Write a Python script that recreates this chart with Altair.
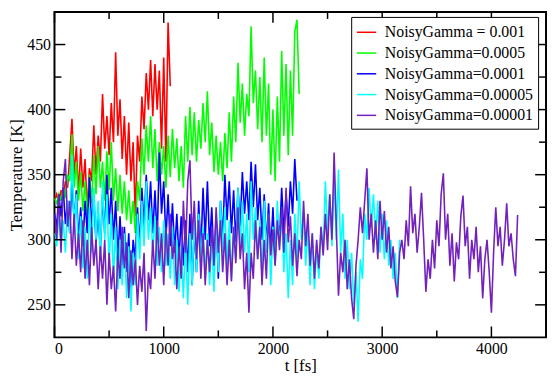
import altair as alt
import pandas as pd

STEP = 20  # fs between samples

labels = ["NoisyGamma = 0.001", "NoisyGamma=0.0005", "NoisyGamma=0.0001",
          "NoisyGamma=0.00005", "NoisyGamma=0.00001"]
colors = ["#ff0000", "#00ff00", "#0000ff", "#00ffff", "#7221bc"]

red = [330, 335, 328, 338, 332, 345, 340, 365, 393, 350, 372, 335, 370, 340, 362, 322,
       355, 345, 388, 350, 380, 360, 412, 370, 395, 365, 405, 375, 444, 380, 408, 362,
       395, 350, 390, 345, 375, 318, 380, 360, 410, 385, 428, 400, 438, 395, 435, 400,
       430, 370, 440, 360, 467, 418]

green = [332, 328, 335, 330, 340, 332, 350, 345, 381, 340, 360, 330, 352, 322, 345, 318,
         350, 328, 365, 335, 372, 340, 360, 330, 368, 338, 375, 330, 355, 322, 350, 320,
         345, 315, 338, 312, 330, 305, 345, 330, 378, 350, 388, 360, 395, 355, 385, 345,
         375, 350, 372, 340, 380, 348, 385, 355, 378, 345, 372, 340, 395, 360, 402, 365,
         398, 360, 392, 370, 405, 375, 414, 365, 390, 352, 380, 350, 375, 345, 382, 355,
         398, 360, 410, 375, 436, 390, 420, 380, 412, 395, 464, 405, 430, 385, 425, 375,
         440, 380, 420, 350, 400, 345, 410, 360, 445, 380, 435, 365, 430, 380, 460, 469,
         412]

blue = [320, 310, 335, 318, 340, 312, 330, 305, 345, 315, 338, 300, 325, 295, 330, 305,
        348, 310, 335, 298, 322, 290, 335, 305, 350, 312, 340, 300, 330, 285, 318, 280,
        310, 275, 305, 262, 300, 285, 325, 295, 340, 310, 350, 315, 345, 305, 338, 300,
        367, 320, 345, 300, 335, 295, 328, 290, 320, 285, 318, 280, 315, 275, 320, 265,
        310, 275, 330, 290, 340, 300, 345, 295, 325, 280, 318, 270, 330, 300, 350, 315,
        345, 305, 338, 298, 340, 310, 352, 320, 345, 315, 360, 325, 358, 315, 340, 300,
        335, 295, 328, 290, 325, 285, 320, 300, 340, 305, 335, 310, 345, 320, 362, 330]

cyan = [305, 295, 320, 298, 315, 290, 330, 305, 365, 310, 335, 285, 318, 278, 310, 270,
        325, 290, 340, 300, 330, 285, 345, 300, 335, 280, 320, 270, 310, 262, 300, 265,
        305, 255, 295, 245, 290, 265, 320, 285, 330, 295, 345, 300, 325, 290, 318, 280,
        310, 275, 315, 280, 305, 270, 310, 265, 300, 260, 295, 255, 300, 250, 305, 265,
        315, 275, 320, 285, 310, 270, 305, 265, 300, 260, 315, 275, 330, 290, 325, 280,
        315, 270, 305, 285, 340, 295, 330, 290, 320, 275, 345, 300, 325, 285, 315, 270,
        330, 290, 320, 265, 310, 280, 330, 295, 318, 275, 305, 255, 300, 265, 320, 285,
        345, 300, 320, 280, 310, 265, 305, 262, 295, 270, 310, 290, 345, 305, 335, 295,
        350, 300, 354, 290, 320, 270, 300, 262, 290, 250, 275, 237, 285, 270, 320, 300,
        340, 310, 335, 300, 330, 290, 320, 285, 315, 280, 300, 270, 290, 255, 300]

purple = [320, 300, 335, 290, 345, 362, 310, 330, 285, 320, 280, 305, 275, 315, 270, 300,
          265, 310, 280, 300, 262, 295, 270, 300, 250, 290, 262, 280, 245, 290, 270, 310,
          278, 298, 255, 292, 265, 285, 250, 280, 260, 290, 230, 275, 262, 300, 270, 315,
          280, 305, 265, 310, 280, 320, 285, 300, 262, 295, 270, 330, 290, 345, 361, 300,
          330, 285, 315, 270, 305, 265, 300, 275, 310, 280, 325, 290, 315, 275, 305, 265,
          300, 268, 310, 282, 325, 285, 305, 262, 290, 244, 290, 270, 315, 285, 310, 265,
          300, 270, 320, 288, 308, 280, 315, 292, 325, 290, 340, 298, 318, 280, 305, 272,
          300, 285, 330, 295, 320, 280, 305, 270, 300, 278, 310, 288, 320, 292, 335, 300,
          367, 310, 257, 290, 275, 300, 262, 285, 255, 239, 280, 300, 325, 305, 330, 355,
          300, 320, 290, 315, 285, 330, 300, 322, 290, 310, 278, 295, 268, 256, 290, 300,
          285, 315, 295, 341, 305, 320, 290, 310, 336, 300, 260, 285, 270, 300, 278, 315,
          295, 335, 351, 300, 320, 280, 305, 268, 298, 285, 318, 334, 295, 310, 270, 300,
          285, 310, 275, 295, 255, 285, 300, 275, 244, 290, 325, 295, 310, 280, 300, 328,
          295, 305, 285, 272, 319]

series = [red, green, blue, cyan, purple]

x_major = [0, 1000, 2000, 3000, 4000]
x_minor = [500, 1500, 2500, 3500]
y_major = [250, 300, 350, 400, 450]
y_minor = [275, 325, 375, 425]

W, H = 546, 367
FONT = "Liberation Serif"

xscale = alt.Scale(domain=[0, 4500], nice=False, zero=False)
yscale = alt.Scale(domain=[225, 475], nice=False, zero=False)
cscale = alt.Scale(domain=labels, range=colors)

xaxis = alt.Axis(values=x_major, ticks=False, domain=False, grid=False,
                 title="t [fs]", format="d", labelPadding=3, titlePadding=1)
yaxis = alt.Axis(values=y_major, ticks=False, domain=False, grid=False,
                 title="Temperature [K]", format="d", labelPadding=4, titlePadding=1)
legend = alt.Legend(title=None, orient="none", legendX=300, legendY=5,
                    symbolType="stroke", symbolSize=380, symbolStrokeWidth=1.5,
                    labelFont=FONT, labelFontSize=16, labelColor="black",
                    strokeColor="black", fillColor="white",
                    padding=5, rowPadding=2, labelOffset=8)

layers = []
for lab, vals in zip(labels, series):
    df = pd.DataFrame({"t": [k * STEP for k in range(len(vals))], "T": vals, "set": lab})
    layers.append(alt.Chart(df).mark_line(strokeWidth=1.6, clip=True).encode(
        x=alt.X("t:Q", scale=xscale, axis=xaxis),
        y=alt.Y("T:Q", scale=yscale, axis=yaxis),
        color=alt.Color("set:N", scale=cscale, legend=legend),
    ))

def tick_layer(vals, field, orient, length):
    df = pd.DataFrame({field: vals})
    rule = alt.Chart(df).mark_rule(color="black", strokeWidth=1.5)
    if orient in ("bottom", "top"):
        x = alt.X(f"{field}:Q", scale=xscale, axis=xaxis)
        if orient == "bottom":
            return rule.encode(x=x, y=alt.value({"expr": "height"}),
                               y2=alt.value({"expr": f"height - {length}"}))
        return rule.encode(x=x, y=alt.value(0), y2=alt.value(length))
    y = alt.Y(f"{field}:Q", scale=yscale, axis=yaxis)
    if orient == "left":
        return rule.encode(y=y, x=alt.value(0), x2=alt.value(length))
    return rule.encode(y=y, x=alt.value({"expr": "width"}),
                       x2=alt.value({"expr": f"width - {length}"}))

for side in ("bottom", "top"):
    layers.append(tick_layer(x_major, "t", side, 11))
    layers.append(tick_layer(x_minor, "t", side, 7))
for side in ("left", "right"):
    layers.append(tick_layer(y_major, "T", side, 11))
    layers.append(tick_layer(y_minor, "T", side, 7))

chart = alt.layer(*layers).properties(
    width=W, height=H,
    autosize=alt.AutoSizeParams(type="fit", contains="padding"),
    padding={"left": 0, "top": 1, "right": 1, "bottom": 0},
    background="white",
).configure_view(
    stroke="black", strokeWidth=2
).configure_axis(
    labelFont=FONT, labelFontSize=16, labelColor="black",
    titleFont=FONT, titleFontSize=17, titleColor="black", titleFontWeight="normal",
).configure_legend(
    labelFont=FONT, labelFontSize=16, labelColor="black",
)

chart.save("out.html", embed_options={"renderer": "svg", "actions": False})
